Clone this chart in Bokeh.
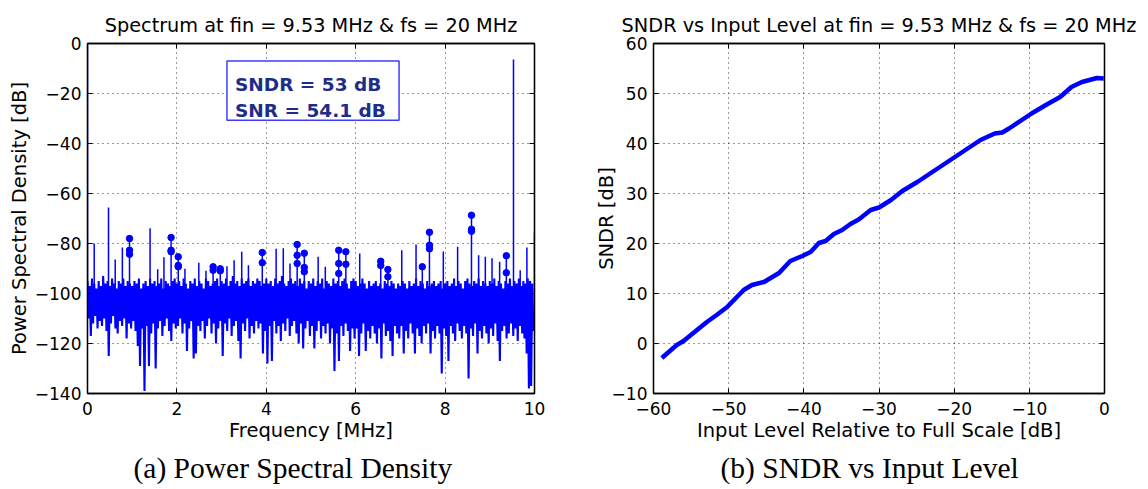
import numpy as np
from bokeh.plotting import figure
from bokeh.models import Range1d, FixedTicker, LinearAxis, Title, Label
from bokeh.layouts import row
from bokeh.embed import file_html
from bokeh.resources import INLINE

# ---------------- (a) Power spectral density ----------------
# noise floor read column by column (upper / lower excursion), 0.05 MHz per column
noise_hi = [
    -95, -97, -94, -96, -98, -95, -97, -93, -96, -95, -97, -94, -96, -98, -95, -96, -94, -97, -95, -96,
    -97, -95, -96, -94, -98, -96, -95, -97, -94, -96, -95, -97, -96, -94, -98, -95, -96, -97, -95, -94,
    -96, -95, -97, -94, -96, -98, -95, -96, -94, -97, -95, -96, -98, -94, -95, -97, -96, -95, -94, -97,
    -95, -96, -94, -97, -95, -93, -96, -95, -97, -94, -96, -95, -94, -97, -95, -96, -94, -95, -97, -96,
    -94, -96, -95, -97, -94, -96, -95, -93, -96, -97, -95, -94, -96, -95, -97, -94, -96, -95, -98, -95,
    -96, -94, -97, -95, -96, -94, -98, -95, -96, -97, -94, -96, -95, -97, -95, -94, -96, -98, -95, -94,
    -95, -97, -96, -94, -96, -98, -95, -97, -96, -95, -97, -96, -98, -95, -96, -97, -95, -96, -98, -96,
    -97, -95, -96, -98, -95, -97, -96, -94, -97, -95, -96, -98, -95, -97, -96, -95, -97, -96, -95, -98,
    -96, -95, -97, -96, -94, -97, -95, -96, -98, -95, -94, -96, -97, -95, -96, -94, -97, -95, -96, -97,
    -95, -96, -94, -97, -95, -96, -98, -95, -96, -94, -97, -95, -96, -94, -97, -95, -96, -94, -95, -96,
]
noise_lo = [
    -110, -117, -112, -109, -114, -111, -113, -110, -115, -125, -112, -109, -114, -116, -111, -113, -110, -118, -112, -114,
    -111, -115, -121, -129, -114, -139, -113, -129, -116, -112, -130, -114, -111, -117, -113, -110, -115, -119, -112, -114,
    -113, -110, -116, -112, -123, -114, -111, -126, -124, -113, -115, -111, -118, -113, -110, -116, -112, -120, -114, -111,
    -125, -112, -115, -110, -117, -113, -111, -119, -126, -112, -115, -110, -118, -113, -116, -111, -114, -112, -124, -115,
    -128, -113, -127, -111, -116, -113, -119, -112, -115, -110, -117, -113, -111, -116, -120, -112, -122, -114, -111, -117,
    -113, -122, -115, -111, -118, -113, -116, -112, -120, -114, -131, -116, -127, -113, -117, -112, -115, -123, -114, -118,
    -114, -125, -116, -112, -123, -115, -118, -113, -116, -120, -114, -126, -112, -117, -115, -119, -125, -113, -116, -118,
    -113, -124, -115, -118, -112, -116, -124, -114, -117, -120, -113, -116, -112, -124, -115, -118, -113, -116, -132, -114,
    -117, -127, -113, -116, -119, -112, -115, -118, -113, -116, -134, -114, -117, -112, -124, -115, -118, -113, -116, -120,
    -114, -117, -112, -119, -127, -115, -113, -118, -116, -112, -117, -114, -119, -113, -116, -118, -124, -138, -137, -115,
]
bin_step_mhz = 0.025

# discrete spurs / tones: frequency [MHz], peak level [dB]
spur_freq = [0.0, 0.15, 0.47, 0.62, 0.78, 0.94, 1.40, 1.57, 1.71, 1.87, 2.03, 2.18, 2.49, 2.65,
             2.81, 2.97, 3.12, 3.28, 3.45, 3.60, 3.91, 4.22, 4.38, 4.53, 4.69, 4.85, 5.16, 5.32,
             5.62, 5.78, 6.09, 6.56, 6.72, 7.03, 7.35, 7.49, 7.65, 7.96, 8.28, 8.59, 8.75, 8.90,
             9.05, 9.22, 9.37, 9.53, 9.68, 9.83, 10.0]
spur_db = [0.0, -80.0, -65.6, -86.4, -81.6, -78.0, -73.9, -90.3, -85.5, -77.6, -85.3, -90.1, -87.7, -90.9,
           -89.3, -90.1, -89.1, -86.7, -83.3, -88.7, -83.6, -82.1, -81.9, -88.0, -80.4, -83.9, -85.3, -89.3,
           -82.7, -83.3, -84.0, -87.1, -90.4, -82.7, -80.4, -89.3, -75.5, -83.2, -81.3, -68.7, -84.7, -85.3,
           -85.9, -87.3, -84.9, -6.4, -90.7, -81.6, -75.7]

# marked harmonic bins
harm_freq = [0.94, 0.94, 0.94, 1.87, 1.87, 1.87, 2.03, 2.03, 2.03, 2.81, 2.81, 2.97, 2.97,
             3.91, 3.91, 4.69, 4.69, 4.69, 4.85, 4.85, 4.85, 5.62, 5.62, 5.62, 5.78, 5.78,
             6.56, 6.56, 6.72, 6.72, 7.49, 7.65, 7.65, 7.65, 8.59, 8.59, 8.59, 9.37, 9.37]
harm_db = [-78.0, -82.7, -84.3, -77.6, -82.7, -83.3, -85.3, -88.8, -89.3, -89.3, -90.7, -90.1, -90.9,
           -83.6, -87.7, -80.4, -84.7, -88.0, -83.9, -89.6, -91.3, -82.7, -88.0, -92.0, -83.3, -88.3,
           -87.1, -88.8, -90.4, -93.3, -89.3, -75.5, -80.7, -82.1, -68.7, -74.3, -75.1, -84.9, -91.7]

psd_xticks = [0, 2, 4, 6, 8, 10]
psd_yticks = [0, -20, -40, -60, -80, -100, -120, -140]
box_lines = ["SNDR = 53 dB", "SNR = 54.1 dB"]

# ---------------- (b) SNDR vs input level ----------------
level_db = [-58.9, -56.9, -56.0, -54.7, -52.9, -51.6, -50.2, -49.1, -48.0, -46.9, -45.3, -43.3,
            -41.8, -40.2, -39.1, -38.0, -37.1, -36.0, -34.9, -33.8, -32.7, -31.1, -30.0, -28.4,
            -26.9, -24.9, -22.7, -20.9, -18.7, -16.5, -14.6, -13.6, -12.7, -9.7, -7.8, -5.9,
            -4.4, -3.0, -1.0, -0.1]
sndr_db = [-2.9, -0.3, 0.5, 2.1, 4.3, 5.7, 7.3, 9.0, 10.7, 11.7, 12.3, 14.1,
           16.5, 17.5, 18.3, 20.1, 20.5, 21.9, 22.7, 23.9, 24.8, 26.7, 27.2, 28.7,
           30.5, 32.3, 34.5, 36.3, 38.5, 40.7, 42.0, 42.2, 43.0, 46.0, 47.7, 49.3,
           51.3, 52.3, 53.1, 53.0]
sndr_xticks = [-60, -50, -40, -30, -20, -10, 0]
sndr_yticks = [-10, 0, 10, 20, 30, 40, 50, 60]

# ---------------- styling ----------------
FONT = "DejaVu Sans"
TICK_SIZE = "17px"
LABEL_SIZE = "19.5px"
TITLE_SIZE = "19.3px"
CAP_FONT = "Liberation Serif"
CAP_SIZE = "29.5px"
BLUE = "#0000ff"


def lab(t):
    return str(t).replace("-", "\u2212")


def style(p, xt, yt, xlabel, ylabel, title, caption, cap_offset, ylab_standoff):
    p.background_fill_color = "white"
    p.border_fill_color = "white"
    p.outline_line_color = "black"
    p.outline_line_width = 1.3
    p.title.text = title
    p.title.align = "center"
    p.title.text_font = FONT
    p.title.text_font_size = TITLE_SIZE
    p.title.text_font_style = "normal"
    p.title.text_color = "black"
    p.title.standoff = 14

    xa = p.xaxis[0]
    ya = p.yaxis[0]
    xa.axis_label = xlabel
    ya.axis_label = ylabel
    for ax, ticks in ((xa, xt), (ya, yt)):
        ax.ticker = FixedTicker(ticks=ticks)
        ax.major_label_overrides = {t: lab(t) for t in ticks}
        ax.major_tick_in = 5
        ax.major_tick_out = 0
        ax.minor_tick_line_color = None
        ax.major_tick_line_color = "black"
        ax.axis_line_color = "black"
        ax.axis_line_width = 1.3
        ax.major_label_text_font = FONT
        ax.major_label_text_font_size = TICK_SIZE
        ax.major_label_text_color = "black"
        ax.axis_label_text_font = FONT
        ax.axis_label_text_font_size = LABEL_SIZE
        ax.axis_label_text_font_style = "normal"
        ax.axis_label_text_color = "black"
    xa.major_label_standoff = 8
    xa.axis_label_standoff = 1
    ya.major_label_standoff = 6
    ya.axis_label_standoff = ylab_standoff

    for ticks, loc in ((xt, "above"), (yt, "right")):
        ax = LinearAxis(ticker=FixedTicker(ticks=ticks), major_tick_in=5, major_tick_out=0,
                        minor_tick_line_color=None, major_label_text_color=None,
                        major_label_text_font_size="0px", major_label_standoff=0,
                        axis_line_color="black", axis_line_width=1.3)
        p.add_layout(ax, loc)

    for g, ticks in ((p.xgrid[0], xt), (p.ygrid[0], yt)):
        g.ticker = FixedTicker(ticks=ticks)
        g.grid_line_color = "#333333"
        g.grid_line_dash = "1 4"
        g.grid_line_width = 1

    cap = Title(text=caption, align="left", offset=cap_offset, text_font=CAP_FONT,
                text_font_size=CAP_SIZE, text_font_style="normal", text_color="black", standoff=10)
    p.add_layout(cap, "below")


# ---- figure (a)
p1 = figure(width=560, height=489, x_range=Range1d(0, 10), y_range=Range1d(-140, 0),
            output_backend="svg", toolbar_location=None,
            min_border_left=87, min_border_right=26, min_border_top=43, min_border_bottom=96)
style(p1, psd_xticks, psd_yticks, "Frequency [MHz]", "Power Spectral Density [dB]",
      "Spectrum at fin = 9.53 MHz & fs = 20 MHz", "(a) Power Spectral Density", 46, 1)

psd = np.empty(len(noise_hi) * 2)
psd[0::2] = noise_hi
psd[1::2] = noise_lo
freq = np.arange(len(psd)) * bin_step_mhz
p1.line(freq, psd, line_color=BLUE, line_width=2.1)
p1.segment(x0=spur_freq, y0=[-104] * len(spur_freq), x1=spur_freq, y1=spur_db,
           line_color=BLUE, line_width=1.5)
p1.scatter(harm_freq, harm_db, size=6.5, fill_color=BLUE, line_color=BLUE)

p1.quad(left=3.12, right=6.97, top=-6.96, bottom=-30.7, fill_color="white",
        line_color="#3c3cff", line_width=1.5)
for txt, yb in zip(box_lines, (-16.4, -26.7)):
    p1.add_layout(Label(x=3.3, y=yb, text=txt, text_font=FONT, text_font_size="18.5px",
                        text_font_style="bold", text_color="#1c2d8a", text_baseline="alphabetic"))

# ---- figure (b)
p2 = figure(width=588, height=489, x_range=Range1d(-60, 0), y_range=Range1d(-10, 60),
            output_backend="svg", toolbar_location=None,
            min_border_left=93, min_border_right=44, min_border_top=43, min_border_bottom=96)
style(p2, sndr_xticks, sndr_yticks, "Input Level Relative to Full Scale [dB]", "SNDR [dB]",
      "SNDR vs Input Level at fin = 9.53 MHz & fs = 20 MHz", "(b) SNDR vs Input Level", 67, -9)
p2.line(level_db, sndr_db, line_color=BLUE, line_width=4.5, line_join="round")

layout = row(p1, p2)
open("out.html", "w").write(file_html(layout, INLINE))
